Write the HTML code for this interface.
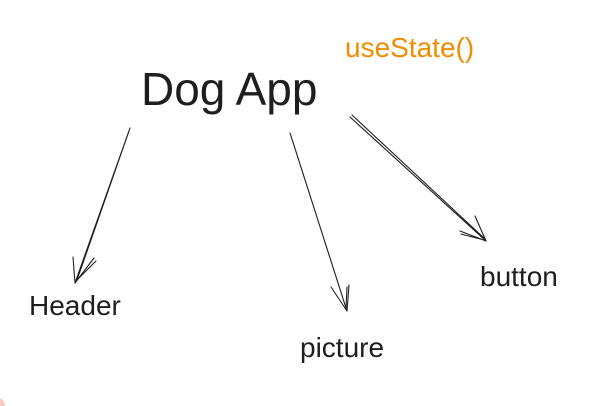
<!DOCTYPE html>
<html><head><style>
html,body{margin:0;padding:0;background:#fff;}
body{width:595px;height:406px;position:relative;overflow:hidden;font-family:"Liberation Sans",sans-serif;}
.t{position:absolute;white-space:nowrap;line-height:1;color:#1e1e1e;}
</style></head><body>
<svg width="595" height="406" style="position:absolute;left:0;top:0">
<g stroke="#1e1e1e" stroke-width="1.1" fill="none" stroke-linecap="round">
<path d="M130 128 L75 283 M129 131 L77 280"/>
<path d="M75 283 L73 257 M75 283 L94 258 M76 281 L96 261"/>
<path d="M290 133 L347 311 M291 136 L346 308"/>
<path d="M347 311 L331 287 M347 311 L349 285 M346 309 L347 287"/>
<path d="M350 117 L486 241 M352 115 L485 239"/>
<path d="M486 241 L460 231 M486 241 L475 216 M484 240 L461 234"/>
</g>
<circle cx="-4" cy="406" r="9" fill="#ffc9c9"/>
</svg>
<div class="t" style="left:141px;top:66px;font-size:46px;">Dog App</div>
<div class="t" style="left:345px;top:34px;font-size:28px;color:#f08c00;">useState()</div>
<div class="t" style="left:29px;top:292px;font-size:28px;">Header</div>
<div class="t" style="left:300px;top:334px;font-size:28px;">picture</div>
<div class="t" style="left:480px;top:263px;font-size:28px;">button</div>
</body></html>
